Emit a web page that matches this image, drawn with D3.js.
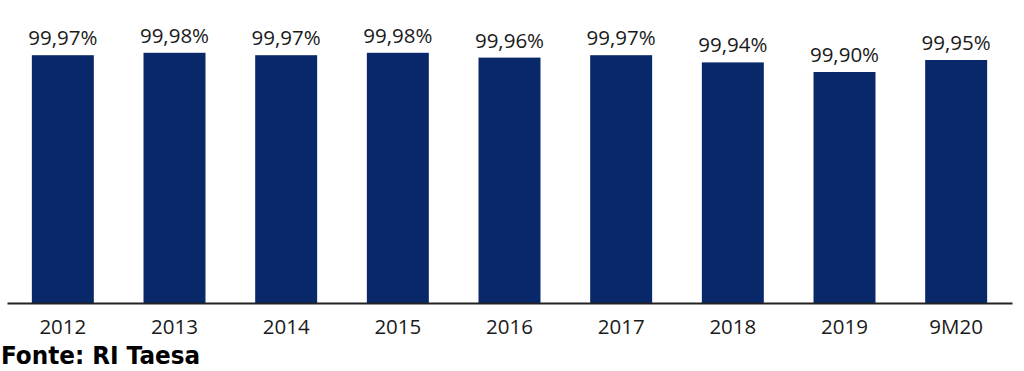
<!DOCTYPE html>
<html><head><meta charset="utf-8">
<script src="https://cdn.jsdelivr.net/npm/d3@7"></script>
<style>body{margin:0;background:#fff}svg{display:block}</style>
</head><body>
<script>
const categories = ["2012","2013","2014","2015","2016","2017","2018","2019","9M20"];
const values = [99.97, 99.98, 99.97, 99.98, 99.96, 99.97, 99.94, 99.90, 99.95];
const valueLabels = ["99,97%","99,98%","99,97%","99,98%","99,96%","99,97%","99,94%","99,90%","99,95%"];
const sourceText = "Fonte: RI Taesa";

const W = 1024, H = 371;
const svg = d3.select("body").append("svg").attr("width", W).attr("height", H);
const x = d3.scaleBand().domain(categories).range([7, 1012]).paddingInner(0.445).paddingOuter(0.2225);
const y = d3.scaleLinear().domain([98.938, 100]).range([303, 48]);

svg.selectAll("rect.bar").data(values).join("rect")
  .attr("class","bar")
  .attr("x", (d,i) => x(categories[i]))
  .attr("width", x.bandwidth())
  .attr("y", d => y(d))
  .attr("height", d => y.range()[0] - y(d))
  .attr("fill", "#09286a");

svg.selectAll("text.vl").data(values).join("text")
  .attr("class","vl")
  .attr("x", (d,i) => x(categories[i]) + x.bandwidth()/2)
  .attr("y", d => y(d) - 10)
  .attr("text-anchor","middle")
  .attr("font-family","Open Sans")
  .attr("font-size", 20.5)
  .attr("fill","#1a1a1a")
  .text((d,i) => valueLabels[i]);

const axis = d3.axisBottom(x).tickSize(0).tickPadding(16);
const g = svg.append("g").attr("transform","translate(0,303)").call(axis);
g.select(".domain").attr("stroke","#222").attr("stroke-width",2);
g.selectAll("text").attr("font-family","Open Sans").attr("font-size",20.5).attr("fill","#1a1a1a");

svg.append("text").attr("x",1).attr("y",364)
  .attr("font-family","DejaVu Sans").attr("font-weight","bold")
  .attr("font-size",24.5).attr("fill","#000")
  .attr("textLength",199).attr("lengthAdjust","spacingAndGlyphs")
  .text(sourceText);
</script>
</body></html>
